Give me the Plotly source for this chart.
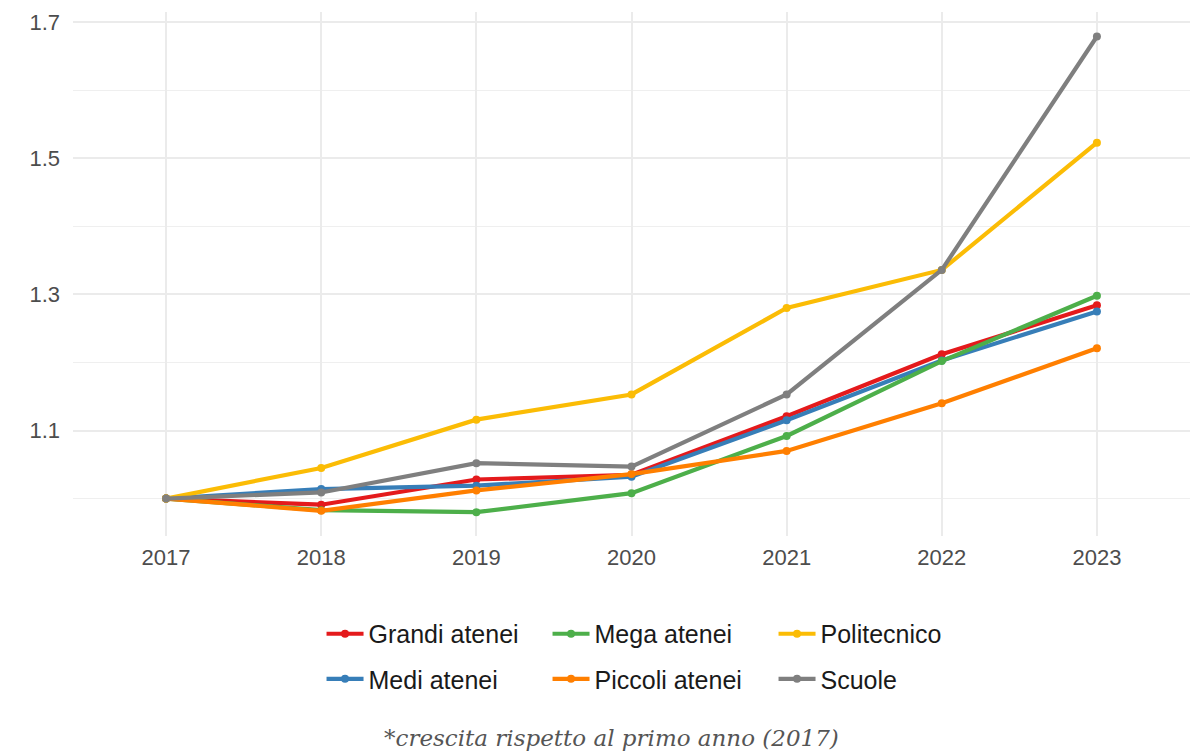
import plotly.graph_objects as go

years = [2017, 2018, 2019, 2020, 2021, 2022, 2023]
year_labels = ["2017", "2018", "2019", "2020", "2021", "2022", "2023"]

grandi = [1.000, 0.991, 1.028, 1.035, 1.121, 1.212, 1.284]
medi = [1.000, 1.014, 1.019, 1.032, 1.115, 1.203, 1.275]
mega = [1.000, 0.983, 0.980, 1.008, 1.092, 1.202, 1.298]
piccoli = [1.000, 0.982, 1.012, 1.036, 1.070, 1.140, 1.221]
politecnico = [1.000, 1.045, 1.116, 1.153, 1.280, 1.336, 1.523]
scuole = [1.000, 1.009, 1.052, 1.047, 1.153, 1.336, 1.679]

series_names = ["Grandi atenei", "Medi atenei", "Mega atenei", "Piccoli atenei", "Politecnico", "Scuole"]
series_values = [grandi, medi, mega, piccoli, politecnico, scuole]
series_colors = ["#E41A1C", "#377EB8", "#4DAF4A", "#FF7F00", "#FBBC05", "#7F7F7F"]
series_legend = ["legend", "legend2", "legend", "legend2", "legend", "legend2"]

y_major = [1.1, 1.3, 1.5, 1.7]
y_minor = [1.0, 1.2, 1.4, 1.6]
caption = "*crescita rispetto al primo anno (2017)"

fig = go.Figure()
for name, vals, col, lg in zip(series_names, series_values, series_colors, series_legend):
    fig.add_trace(go.Scatter(
        x=years, y=vals, name=name, mode="lines+markers",
        line=dict(color=col, width=4.2),
        marker=dict(color=col, size=8),
        legend=lg,
    ))

grid_col = "#EBEBEB"
legend_common = dict(
    orientation="h", x=0.2225, xanchor="left", yanchor="middle",
    entrywidth=174, font=dict(size=25, color="#1A1A1A"), bgcolor="rgba(0,0,0,0)",
    itemwidth=37, traceorder="normal",
)
fig.update_layout(
    width=1191, height=746,
    margin=dict(l=65, r=9, t=2, b=218),
    paper_bgcolor="white", plot_bgcolor="white",
    font=dict(family="Liberation Sans, Arial, sans-serif", color="#4D4D4D"),
    xaxis=dict(
        range=[2016.4, 2023.6], tickmode="array", tickvals=years, ticktext=year_labels,
        showgrid=True, gridcolor=grid_col, gridwidth=1.8, zeroline=False, showline=False,
        ticks="", ticklabelstandoff=6, tickfont=dict(size=22, color="#4D4D4D"),
    ),
    yaxis=dict(
        range=[0.945, 1.715], tickmode="array", tickvals=y_major,
        ticktext=[f"{v:.1f}" for v in y_major],
        showgrid=True, gridcolor=grid_col, gridwidth=1.8, zeroline=False, showline=False,
        ticks="", ticklabelstandoff=12, tickfont=dict(size=22, color="#4D4D4D"),
        ticklabeloverflow="allow",
        minor=dict(tickmode="array", tickvals=y_minor, showgrid=True, gridcolor="#EFEFEF", gridwidth=1.4, ticks=""),
    ),
    legend=dict(legend_common, y=-0.187),
    legend2=dict(legend_common, y=-0.273),
    annotations=[dict(
        text=caption, xref="paper", yref="paper", x=0.4825, y=-0.385,
        xanchor="center", yanchor="middle", showarrow=False,
        font=dict(family="DejaVu Serif, serif", size=23, color="#555555", style="italic"),
    )],
)

fig.write_html("out.html")
